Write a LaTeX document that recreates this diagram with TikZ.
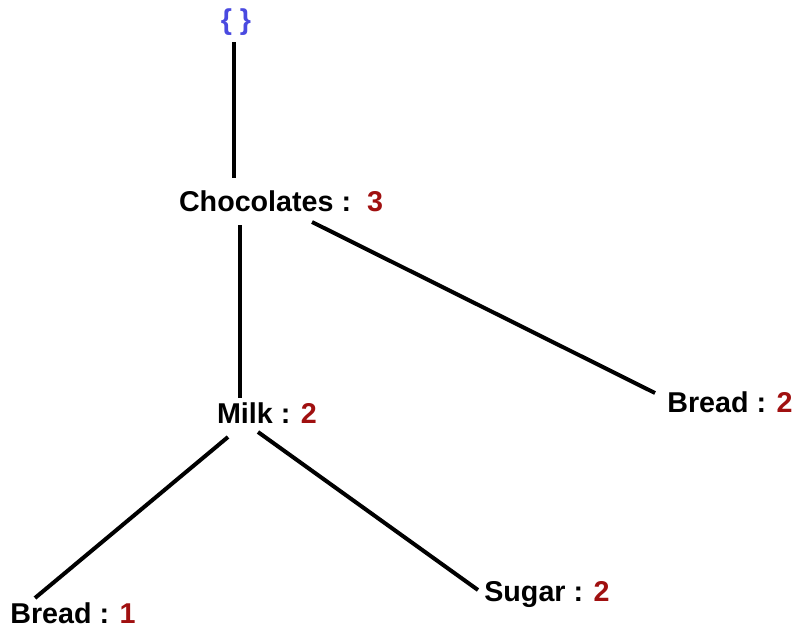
\documentclass[tikz,border=0pt]{standalone}
\usepackage{fontspec}
\setmainfont{Liberation Sans}
\begin{document}
\begin{tikzpicture}[x=0.75pt,y=-0.75pt,
  item/.style={inner sep=0pt,font=\fontsize{21.5}{25}\selectfont\bfseries},
  edge/.style={line width=3pt}]
\definecolor{cnt}{HTML}{A01010}
\definecolor{brace}{HTML}{4A4AE0}
\useasboundingbox (0,0) rectangle (799,636);
% item labels of the tree
\node[item,text=brace] (root) at (236,22) {\{\ \}};
\node[item] (choc) at (281,201) {Chocolates :\ \ \textcolor{cnt}{3}};
\node[item] (milk) at (267,413) {Milk : \textcolor{cnt}{2}};
\node[item] (breadA) at (730,402) {Bread : \textcolor{cnt}{2}};
\node[item] (breadB) at (73,613) {Bread : \textcolor{cnt}{1}};
\node[item] (sugar) at (547,595) {Sugar : \textcolor{cnt}{2}};
% branches
\draw[edge] ([shift={(-2,20)}]root.center) -- ([shift={(-47,-23)}]choc.center);
\draw[edge] ([shift={(-41,24)}]choc.center) -- ([shift={(-27,-15)}]milk.center);
\draw[edge] ([shift={(31,21)}]choc.center) -- ([shift={(-75,-9)}]breadA.center);
\draw[edge] ([shift={(-39,24)}]milk.center) -- ([shift={(-38,-15)}]breadB.center);
\draw[edge] ([shift={(-9,19)}]milk.center) -- ([shift={(-69,-5)}]sugar.center);
\end{tikzpicture}
\end{document}
